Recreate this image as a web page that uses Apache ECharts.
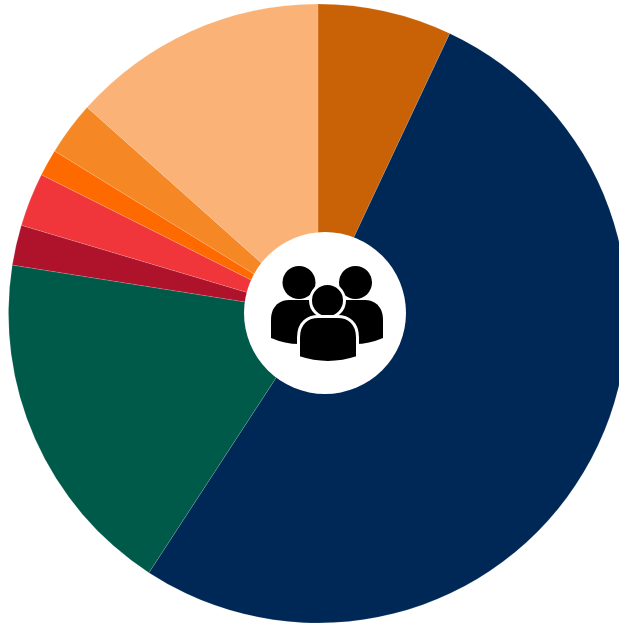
<!DOCTYPE html>
<html>
<head>
<meta charset="utf-8">
<style>html,body{margin:0;padding:0;background:#fff}#chart{width:619px;height:624px}</style>
<script src="https://cdn.jsdelivr.net/npm/echarts@6/dist/echarts.min.js"></script>
</head>
<body>
<div id="chart"></div>
<script>
// Share of each group, in percent, clockwise from twelve o'clock
const shares = [7.0, 52.2, 18.3, 2.1, 2.8, 1.4, 2.8, 13.4];
const colors = ['#C96106', '#002856', '#005A4A', '#AF132B', '#F1363B', '#FF6A00', '#F58724', '#FAB277'];

const chart = echarts.init(document.getElementById('chart'), null, { renderer: 'canvas' });

// Shoulders of a person in the hub icon: rounded top, slightly bowed bottom edge
echarts.graphic.registerShape('personBody', echarts.graphic.extendShape({
  shape: { x0: 0, x1: 0, top: 0, edge: 0, bottom: 0 },
  buildPath(ctx, s) {
    const w = s.x1 - s.x0, mid = (s.x0 + s.x1) / 2;
    ctx.moveTo(s.x0, s.edge);
    ctx.lineTo(s.x0, s.top + w * 0.36);
    ctx.bezierCurveTo(s.x0, s.top + w * 0.1, s.x0 + w * 0.16, s.top, s.x0 + w * 0.34, s.top);
    ctx.lineTo(s.x1 - w * 0.34, s.top);
    ctx.bezierCurveTo(s.x1 - w * 0.16, s.top, s.x1, s.top + w * 0.1, s.x1, s.top + w * 0.36);
    ctx.lineTo(s.x1, s.edge);
    ctx.quadraticCurveTo(mid, s.bottom + (s.bottom - s.edge), s.x0, s.edge);
    ctx.closePath();
  }
}));

// The hub sits above the pie, so every element carries a raised z
const head = (cx, cy, r, z, extra) => ({
  type: 'circle', silent: true, z, shape: { cx, cy, r }, style: Object.assign({ fill: '#000' }, extra)
});
const body = (x0, x1, top, edge, bottom, z, extra) => ({
  type: 'personBody', silent: true, z, shape: { x0, x1, top, edge, bottom },
  style: Object.assign({ fill: '#000' }, extra)
});

chart.setOption({
  animation: false,
  backgroundColor: '#fff',
  series: [{
    type: 'pie',
    center: [318, 313.5],
    radius: [0, 309.5],
    startAngle: 90,
    clockwise: true,
    silent: true,
    label: { show: false },
    labelLine: { show: false },
    itemStyle: { borderColor: 'rgba(255,255,255,0.25)', borderWidth: 0.5 },
    data: shares.map((value, i) => ({ value, itemStyle: { color: colors[i] } }))
  }],
  graphic: { elements: [
    { type: 'circle', silent: true, z: 10, shape: { cx: 325, cy: 313, r: 81 }, style: { fill: '#fff' } },
    body(271, 327, 300, 338, 344, 11),
    body(327, 383, 300, 338, 344, 11),
    head(299, 282.5, 16.5, 12),
    head(355.5, 282.5, 16.5, 12),
    head(327.5, 300.5, 17, 13, { stroke: '#fff', lineWidth: 3 }),
    body(298.5, 357.5, 316.5, 357.5, 362.5, 13, { stroke: '#fff', lineWidth: 3 })
  ] }
});
</script>
</body>
</html>
